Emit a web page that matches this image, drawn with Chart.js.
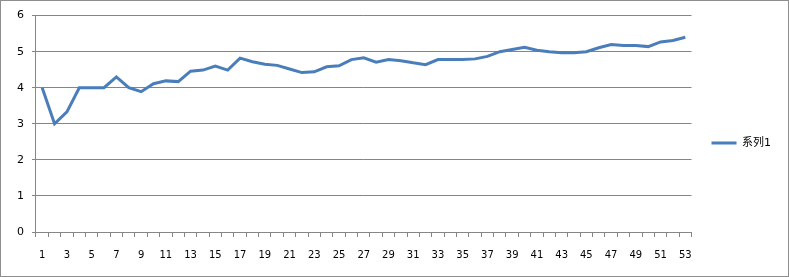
<!DOCTYPE html>
<html>
<head>
<meta charset="utf-8">
<script src="https://cdn.jsdelivr.net/npm/chart.js@4"></script>
<style>
  html, body { margin: 0; padding: 0; background: #fff; }
  #wrap { width: 787px; height: 275px; border: 1px solid #8e8e8e; position: relative; }
</style>
</head>
<body>
<div id="wrap"><canvas id="chart"></canvas></div>
<script>
// categorias (eje X)
const categories = [1, 2, 3, 4, 5, 6, 7, 8, 9, 10, 11, 12, 13, 14, 15, 16, 17, 18, 19, 20,
    21, 22, 23, 24, 25, 26, 27, 28, 29, 30, 31, 32, 33, 34, 35, 36, 37, 38, 39, 40,
    41, 42, 43, 44, 45, 46, 47, 48, 49, 50, 51, 52, 53];

// valores de la serie
const series1 = [4.0, 3.0, 3.33, 4.0, 4.0, 4.0, 4.30, 4.0, 3.89, 4.11,
    4.19, 4.17, 4.46, 4.49, 4.60, 4.49, 4.82, 4.72, 4.65, 4.62,
    4.52, 4.42, 4.44, 4.58, 4.61, 4.78, 4.83, 4.71, 4.78, 4.75,
    4.69, 4.64, 4.78, 4.78, 4.78, 4.80, 4.87, 5.0, 5.06, 5.12,
    5.04, 5.0, 4.97, 4.97, 5.0, 5.11, 5.2, 5.17, 5.17, 5.14,
    5.27, 5.31, 5.40];

const seriesName = '系列1';
const yTicks = [0, 1, 2, 3, 4, 5, 6];

const gridColor = '#868686';
const fontFamily = 'Tahoma, "DejaVu Sans", "Noto Sans CJK SC", sans-serif';

new Chart(document.getElementById('chart'), {
    type: 'line',
    data: {
        labels: categories,
        datasets: [{
            label: seriesName,
            data: series1,
            borderColor: '#4a7ebb',
            backgroundColor: '#4a7ebb',
            borderWidth: 3,
            pointRadius: 0,
            tension: 0,
            fill: false
        }]
    },
    options: {
        responsive: true,
        maintainAspectRatio: false,
        animation: false,
        layout: {
            padding: { top: 12, left: 8, right: 7, bottom: 3 }
        },
        plugins: {
            legend: {
                position: 'right',
                labels: {
                    usePointStyle: true,
                    pointStyle: 'line',
                    pointStyleWidth: 25,
                    color: '#000',
                    padding: 20,
                    font: { family: fontFamily, size: 11 }
                }
            },
            tooltip: { enabled: false }
        },
        scales: {
            x: {
                offset: true,
                grid: {
                    offset: true,
                    drawOnChartArea: false,
                    drawTicks: true,
                    tickLength: 5,
                    color: gridColor
                },
                border: { color: gridColor, width: 1 },
                ticks: {
                    autoSkip: false,
                    maxRotation: 0,
                    padding: 12,
                    color: '#000',
                    font: { family: fontFamily, size: 10 },
                    callback: function (val, idx) {
                        return idx % 2 === 0 ? categories[idx] : '';
                    }
                }
            },
            y: {
                min: yTicks[0],
                max: yTicks[yTicks.length - 1],
                afterBuildTicks: function (axis) {
                    axis.ticks = yTicks.map(v => ({ value: v }));
                },
                grid: {
                    color: gridColor,
                    tickLength: 4,
                    lineWidth: 1
                },
                border: { color: gridColor, width: 1 },
                ticks: {
                    padding: 8,
                    color: '#000',
                    font: { family: fontFamily, size: 11 }
                }
            }
        }
    }
});
</script>
</body>
</html>
